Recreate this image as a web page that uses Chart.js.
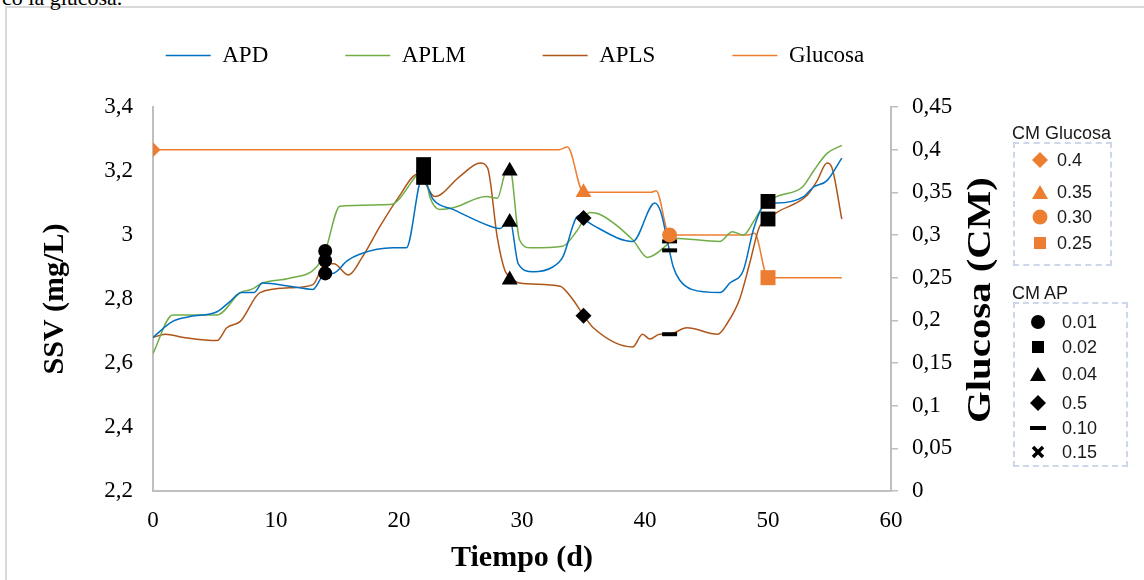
<!DOCTYPE html>
<html>
<head>
<meta charset="utf-8">
<script src="https://cdn.jsdelivr.net/npm/chart.js@4"></script>
<style>
  body { margin: 0; width: 1144px; height: 580px; overflow: hidden; background: #fff; position: relative; font-family: "Liberation Serif", serif; }
  #frame { position: absolute; left: 5px; top: 6px; width: 1200px; height: 700px; border: 2px solid #d9d9d9; }
  #cut { position: absolute; left: 2px; top: -13px; font-size: 22px; line-height: 22px; color: #000; white-space: nowrap; }
  #myChart { position: absolute; left: 0; top: 0; }
  #glucTitle { position: absolute; left: 830px; top: 280px; width: 300px; height: 40px; line-height: 40px; text-align: center;
               font: bold 34px "Liberation Serif", serif; color: #000; transform: rotate(-90deg) scaleX(1.2); }
  .cm { position: absolute; font-family: "Liberation Sans", sans-serif; font-size: 18px; color: #1a1a1a; line-height: 20px; }
  .box { position: absolute; border: 2px dashed #cdd7ea; box-sizing: border-box; }
  .it { position: absolute; height: 20px; display: flex; align-items: center; font-family: "Liberation Sans", sans-serif; font-size: 18px; color: #1a1a1a; }
  .it svg { flex: none; }
</style>
</head>
<body>
<div id="frame"></div>
<div id="cut">co la glucosa.</div>
<canvas id="myChart" width="1144" height="580"></canvas>
<div id="glucTitle">Glucosa (CM)</div>

<div class="cm" style="left:1012px; top:123px;">CM Glucosa</div>
<div class="box" style="left:1013px; top:142px; width:99px; height:124px;"></div>
<div class="it" style="left:1032px; top:150px;"><svg width="16" height="16"><polygon points="8,0 16,8 8,16 0,8" fill="#ED7D31"/></svg><span style="margin-left:9px">0.4</span></div>
<div class="it" style="left:1032px; top:182px;"><svg width="16" height="16"><polygon points="8,1 16,15 0,15" fill="#ED7D31"/></svg><span style="margin-left:9px">0.35</span></div>
<div class="it" style="left:1032px; top:207px;"><svg width="16" height="16"><circle cx="8" cy="8" r="7.5" fill="#ED7D31"/></svg><span style="margin-left:9px">0.30</span></div>
<div class="it" style="left:1032px; top:233px;"><svg width="16" height="16"><rect x="2" y="2" width="12" height="12" fill="#ED7D31"/></svg><span style="margin-left:9px">0.25</span></div>

<div class="cm" style="left:1012px; top:283px;">CM AP</div>
<div class="box" style="left:1013px; top:302px; width:115px; height:165px;"></div>
<div class="it" style="left:1030px; top:312px;"><svg width="16" height="16"><circle cx="8" cy="8" r="7" fill="#000"/></svg><span style="margin-left:16px">0.01</span></div>
<div class="it" style="left:1030px; top:337px;"><svg width="16" height="16"><rect x="2" y="2" width="12" height="12" fill="#000"/></svg><span style="margin-left:16px">0.02</span></div>
<div class="it" style="left:1030px; top:364px;"><svg width="16" height="16"><polygon points="8,1 16,15 0,15" fill="#000"/></svg><span style="margin-left:16px">0.04</span></div>
<div class="it" style="left:1030px; top:393px;"><svg width="16" height="16"><polygon points="8,0 16,8 8,16 0,8" fill="#000"/></svg><span style="margin-left:16px">0.5</span></div>
<div class="it" style="left:1030px; top:418px;"><svg width="16" height="16"><rect x="0" y="6" width="16" height="4" fill="#000"/></svg><span style="margin-left:16px">0.10</span></div>
<div class="it" style="left:1030px; top:442px;"><svg width="16" height="16"><path d="M3 3 L13 13 M13 3 L3 13" stroke="#000" stroke-width="3.5"/></svg><span style="margin-left:16px">0.15</span></div>

<script>
// Tick labels
let dayTicks  = ['0', '10', '20', '30', '40', '50', '60'];
let ssvTicks  = ['2,2', '2,4', '2,6', '2,8', '3', '3,2', '3,4'];
let glucTicks = ['0', '0,05', '0,1', '0,15', '0,2', '0,25', '0,3', '0,35', '0,4', '0,45'];

// SSV (mg/L) curves
let apdDays  = [0, 1.6, 3, 5.2, 6.2, 7.2, 8.2, 8.9, 11.1, 13, 14, 14.6, 15.8, 16.8, 19.5, 20.6, 21.9, 22.8, 24.4, 27.6, 28.2, 29, 29.7, 30.9, 32.5, 33.3, 34.6, 35, 35.8, 39, 40.8, 41.3, 41.8, 42.3, 42.8, 43.8, 46.1, 46.9, 48, 48.8, 49.5, 50, 50.7, 52.9, 53.7, 54.8, 56];
let apdSsv   = [2.68, 2.73, 2.745, 2.76, 2.79, 2.82, 2.82, 2.85, 2.84, 2.83, 2.88, 2.88, 2.92, 2.94, 2.96, 2.96, 3.18, 3.11, 3.08, 3.025, 3.02, 3.05, 2.91, 2.885, 2.90, 2.93, 3.06, 3.05, 3.03, 2.98, 3.10, 3.07, 2.985, 2.90, 2.86, 2.83, 2.82, 2.85, 2.89, 3.015, 3.085, 3.10, 3.10, 3.12, 3.15, 3.17, 3.24];

let aplmDays = [0, 1.6, 5.2, 7.1, 8, 8.9, 11.1, 13.3, 14, 15.2, 19.3, 21.5, 22, 22.5, 23.3, 24.4, 27.1, 28, 28.6, 29, 29.8, 30.7, 33.3, 34.5, 35.5, 36.3, 39, 40.2, 41.8, 42.3, 46.1, 47.1, 48, 48.8, 49.6, 50.7, 52.8, 53.7, 54.8, 56];
let aplmSsv  = [2.63, 2.75, 2.75, 2.82, 2.83, 2.85, 2.865, 2.90, 2.95, 3.09, 3.095, 3.19, 3.21, 3.12, 3.08, 3.085, 3.12, 3.115, 3.19, 3.21, 2.985, 2.96, 2.965, 3.015, 3.07, 3.065, 2.985, 2.93, 2.97, 2.99, 2.98, 3.01, 3.00, 3.04, 3.09, 3.12, 3.15, 3.20, 3.255, 3.28];

let aplsDays = [0, 1, 2.5, 5.2, 6, 7.1, 8.7, 11.1, 13, 14, 14.7, 15.9, 17, 18.5, 20, 21.5, 22, 22.9, 25, 26.6, 27.2, 28, 28.6, 29, 29.8, 33.1, 33.9, 35, 35.8, 39, 39.8, 40.4, 41.2, 42, 43.4, 45.9, 46.7, 47.7, 48.5, 49.3, 50, 50.7, 53.2, 54, 54.8, 55.2, 56];
let aplsSsv  = [2.68, 2.69, 2.68, 2.67, 2.71, 2.73, 2.82, 2.835, 2.845, 2.91, 2.91, 2.875, 2.93, 3.03, 3.12, 3.19, 3.17, 3.12, 3.185, 3.225, 3.21, 2.99, 2.89, 2.87, 2.85, 2.84, 2.81, 2.75, 2.71, 2.65, 2.69, 2.675, 2.69, 2.69, 2.71, 2.69, 2.725, 2.80, 2.91, 3.025, 3.05, 3.07, 3.125, 3.17, 3.225, 3.21, 3.05];

// Glucosa (CM) curve
let glucDays = [0, 33, 33.7, 35, 40.5, 40.9, 42, 48.4, 48.9, 50, 56];
let glucCm   = [0.4, 0.4, 0.403, 0.35, 0.35, 0.352, 0.30, 0.30, 0.302, 0.25, 0.25];

// CM AP markers (left axis)
let ap001Days = [14, 14, 14];          let ap001Ssv = [2.95, 2.92, 2.88];
let ap002Days = [22, 22, 50, 50];      let ap002Ssv = [3.22, 3.18, 3.105, 3.05];
let ap004Days = [29, 29, 29];          let ap004Ssv = [3.20, 3.04, 2.86];
let ap05Days  = [35, 35];              let ap05Ssv  = [3.053, 2.748];
let ap010Days = [42, 42, 42];          let ap010Ssv = [2.98, 2.952, 2.69];

// CM Glucosa markers (right axis)
let gmDiamondDays = [0];  let gmDiamondCm = [0.4];
let gmTriDays     = [35]; let gmTriCm     = [0.35];
let gmCircDays    = [42]; let gmCircCm    = [0.30];
let gmSqDays      = [50]; let gmSqCm      = [0.25];

let pts = (xs, ys) => xs.map((x, i) => ({ x: x, y: ys[i] }));

let serif = 'Liberation Serif';

function curve(label, xs, ys, color, axis) {
    return {
        label: label,
        data: pts(xs, ys),
        yAxisID: axis,
        borderColor: color,
        backgroundColor: color,
        borderWidth: 1.5,
        pointRadius: 0,
        pointStyle: 'line',
        cubicInterpolationMode: 'monotone',
        fill: false,
        order: 3
    };
}

function marks(label, xs, ys, color, style, radius, axis, order) {
    return {
        label: label,
        data: pts(xs, ys),
        yAxisID: axis,
        showLine: false,
        pointStyle: style,
        pointRadius: radius,
        backgroundColor: color,
        borderColor: color,
        pointBorderWidth: style === 'line' ? 4 : 0,
        order: order
    };
}

// extra room under the legend row
let legendGap = {
    id: 'legendGap',
    afterInit(chart) {
        let fit = chart.legend.fit;
        chart.legend.fit = function () { fit.call(this); this.height += 30; };
    }
};

let ctx = document.getElementById('myChart').getContext('2d');
let myChart = new Chart(ctx, {
    type: 'line',
    data: {
        datasets: [
            curve('APD', apdDays, apdSsv, '#0070C0', 'y'),
            curve('APLM', aplmDays, aplmSsv, '#70AD47', 'y'),
            curve('APLS', aplsDays, aplsSsv, '#AE5519', 'y'),
            curve('Glucosa', glucDays, glucCm, '#ED7D31', 'y1'),
            marks('0.01', ap001Days, ap001Ssv, '#000', 'circle', 7, 'y', 1),
            marks('0.02', ap002Days, ap002Ssv, '#000', 'rect', 10.5, 'y', 1),
            marks('0.04', ap004Days, ap004Ssv, '#000', 'triangle', 9.2, 'y', 1),
            marks('0.5', ap05Days, ap05Ssv, '#000', 'rectRot', 8, 'y', 1),
            marks('0.10', ap010Days, ap010Ssv, '#000', 'line', 7.5, 'y', 1),
            marks('0.4', gmDiamondDays, gmDiamondCm, '#ED7D31', 'rectRot', 7.5, 'y1', 0),
            marks('0.35', gmTriDays, gmTriCm, '#ED7D31', 'triangle', 9.2, 'y1', 0),
            marks('0.30', gmCircDays, gmCircCm, '#ED7D31', 'circle', 7.5, 'y1', 0),
            marks('0.25', gmSqDays, gmSqCm, '#ED7D31', 'rect', 10.6, 'y1', 0)
        ]
    },
    options: {
        responsive: false,
        animation: false,
        events: [],
        layout: { padding: { top: -33, right: 114, bottom: 0, left: 0 } },
        plugins: {
            tooltip: { enabled: false },
            legend: {
                position: 'top',
                labels: {
                    filter: item => item.datasetIndex < 4,
                    usePointStyle: true,
                    pointStyleWidth: 45,
                    padding: 77,
                    color: '#000',
                    font: { family: serif, size: 23 }
                }
            }
        },
        scales: {
            x: {
                type: 'linear',
                min: 0,
                max: 60,
                grid: { display: false, drawTicks: false },
                border: { color: '#bfbfbf', width: 2 },
                ticks: {
                    stepSize: 10,
                    padding: 16,
                    color: '#000',
                    font: { family: serif, size: 23 },
                    callback: (v, i) => dayTicks[i]
                },
                title: {
                    display: true,
                    text: 'Tiempo (d)',
                    color: '#000',
                    font: { family: serif, size: 30, weight: 'bold' },
                    padding: { top: 0, bottom: 4 }
                },
                afterFit: s => { s.height = 89; }
            },
            y: {
                position: 'left',
                min: 2.2,
                max: 3.4,
                grid: { display: false, drawTicks: false },
                border: { color: '#bfbfbf', width: 2 },
                ticks: {
                    stepSize: 0.2,
                    padding: 20,
                    color: '#000',
                    font: { family: serif, size: 23 },
                    callback: (v, i) => ssvTicks[i]
                },
                title: {
                    display: true,
                    text: 'SSV (mg/L)',
                    color: '#000',
                    font: { family: serif, size: 30, weight: 'bold' },
                    padding: { top: 37, bottom: 0 }
                },
                afterFit: s => { s.width = 153; }
            },
            y1: {
                position: 'right',
                min: 0,
                max: 0.45,
                grid: { drawOnChartArea: false, drawTicks: true, tickLength: 7, color: '#bfbfbf', lineWidth: 1.5 },
                border: { color: '#bfbfbf', width: 2 },
                ticks: {
                    stepSize: 0.05,
                    padding: 14,
                    color: '#000',
                    font: { family: serif, size: 23 },
                    callback: (v, i) => glucTicks[i]
                },
                afterFit: s => { s.width = 139; }
            }
        }
    },
    plugins: [legendGap]
});
</script>
</body>
</html>
